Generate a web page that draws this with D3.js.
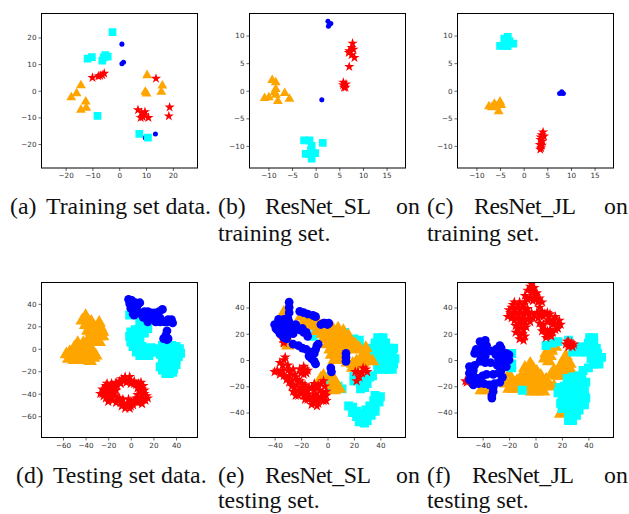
<!DOCTYPE html>
<html>
<head>
<meta charset="utf-8">
<script src="https://cdn.jsdelivr.net/npm/d3@7"></script>
<style>
  html, body { margin: 0; padding: 0; background: #fff; }
  svg { display: block; }
  .axis text { font-family: "DejaVu Sans", sans-serif; font-size: 7.2px; fill: #333; }
  .axis line { stroke: #222; stroke-width: 0.7; }
  .caption { font-family: "Liberation Serif", serif; font-size: 23.8px; fill: #111; }
</style>
</head>
<body>
<div id="chart"></div>
<script>
// (a) training set data
var aCyan = [[-2.5,22],[-11.8,12.1],[-10.2,12.6],[-5.2,13.4],[-4.3,12.8],[-6.3,11.3],[-5.8,12.5],[-8.1,-9.4],[7.5,-16.2],[10.7,-17.6]];
var aBlue = [[1,17.5],[1,10.1],[1.6,10.7],[13.5,-16.2],[9.7,-17.6]];
var aRed = [[-10,4.9],[-7.8,5.5],[-7.1,5.7],[-5.6,6.5],[-6.3,5.9],[13.7,4.6],[18.8,-6.2],[18.5,-9.5],[7,-7.2],[9.6,-7.9],[8.3,-8.2],[8.8,-9.8],[8,-10.1],[10.9,-10.1],[9.3,-9.1]];
var aOrange = [[10.4,5.8],[16.1,1.9],[15.7,-0.4],[9.7,-0.4],[10.2,-1.1],[-14.3,2],[-15.9,-1],[-17.9,-2.5],[-12.5,-4.1],[-12.3,-6.4],[-14.3,-7.2]];

// (b) ResNet_SL, training
var bBlue = [[2.6,12.6],[3.2,12.2],[2.7,11.7],[2.9,12],[1.3,-1.65]];
var bRed = [[7.8,8.6],[8,7.5],[7.1,7.2],[7.6,7.8],[7.6,6.5],[8.2,6],[7,6.9],[7.1,4.35],[5.85,1.5],[6.4,1.2],[6,0.6],[6.3,0.6],[5.8,1.05]];
var bOrange = [[-9.2,1.9],[-8.45,1.5],[-8.45,0.3],[-8.4,-0.75],[-8,-1.9],[-10.8,-1.35],[-9.9,-1.2],[-6.55,-0.45],[-5.55,-1.5],[-8.7,-0.3]];
var bCyan = [[-2.45,-9],[-1.3,-9],[1.5,-9.45],[-0.85,-10],[-1,-10.8],[-2.1,-11.45],[-0.1,-11.3],[-0.85,-12.3],[-1.2,-11.45]];

// (c) ResNet_JL, training
var cCyan = [[-3.35,9.75],[-4.1,9.45],[-2.2,8.55],[-5,8.15],[-3.4,8.1],[-3.9,8.85],[-3,9],[-4.2,8.2]];
var cOrange = [[-7.35,-2.85],[-6.2,-2.4],[-5,-2],[-4.75,-2.6],[-5.3,-3.75],[-6.7,-3],[-5.8,-2.85]];
var cBlue = [[8,-0.45],[7.6,-0.5],[8.4,-0.5],[8.05,-0.2]];
var cRed = [[4.1,-7.5],[3.8,-8],[4.3,-8.25],[3.55,-8.85],[4,-9.15],[3.4,-9.75],[3.85,-9.9],[3.5,-10.65],[3.7,-10.35],[3.6,-8.4]];

// (d) testing set data
var dOrange = [[-40,29],[-43,25],[-38,25],[-35,24],[-40,21],[-36,20],[-32,19],[-28,23],[-27,19],[-25,15],[-30,15],[-35,15],[-38,16],[-33,11],[-28,11],[-36,11],[-25,11],[-32,7],[-28,6],[-35,7],
  [-47,5],[-42,5],[-38,3],[-50,1],[-45,1],[-40,0],[-35,0],[-54,-3],[-49,-3],[-44,-3],[-39,-3],[-34,-3],[-31,-6],[-57,-5],[-52,-7],[-47,-7],[-42,-7],[-37,-7],[-33,-8],[-55,-9],[-50,-10],[-45,-10],[-40,-10],[-36,-11]];
var dCyan = [[-1,30],[8,25],[12,24],[8,18],[12,18],[15,18],[4,17],[0,15],[3,13],[8,14],[12,14],[-1,11],[3,9],[7,10],[0,6],[4,5],[8,6],[2,2],[6,1],[10,2],[14,0],[18,1],[21,0],[5,-3],[9,-4],[13,-4],[17,-3],[21,-3],[8,-6],[12,-6],[16,-6],
  [28,3],[32,2],[36,3],[40,2],[43,0],[44,-4],[40,-3],[36,-2],[32,-3],[28,-2],[26,-5],[30,-6],[34,-6],[38,-6],[42,-7],[40,-10],[36,-10],[32,-10],[28,-10],[40,-14],[36,-14],[32,-14],[28,-14],[26,-16],[38,-18],[34,-18],[30,-18],[28,-19],[37,-21],[34,-22],[31,-22]];
var dBlue = [[-2,44],[1,43],[-1,40],[4,41],[8,41],[5,37],[0,36],[6,39],[3,38],[2,31],[3,30],[8,32],[12,33],[15,33],[11,28],[10,30],[18,32],[14,27],[16,28],[19,29],[15,24],[21,32],[25,33],[28,35],[24,30],[22,27],[26,27],[22,24],[26,24],[30,24],[33,26],[36,26],[37,23],[32,24],[32,16],[31,12],[29,9],[32,8],[33,9]];
var dRed = [[-6,-28],[-2,-28],[3,-29],[7,-31],[-9,-31],[3,-31],[8,-33],[-10,-29],[-13,-30],[-22,-33],[-18,-33],[-14,-34],[-25,-40],[-21,-39],[-17,-38],[-13,-37],[-22,-44],[-18,-44],[-14,-42],[-13,-48],[-9,-48],[-12,-44],[-6,-49],[-2,-49],[-5,-53],[-1,-53],[2,-50],[6,-48],[10,-49],[13,-46],[14,-42],[9,-44],[5,-44],[0,-47],[-7,-45],[8,-38],[10,-36],[6,-35],[12,-40],
  [-20,-36],[-16,-36],[-24,-37],[-19,-41],[-15,-40],[-24,-42],[-20,-47],[-16,-46],[-11,-46],[-8,-51],[-4,-51],[0,-51],[4,-47],[8,-47],[11,-45],[12,-37],[15,-44],[10,-41],[6,-41],[3,-46],[-2,-45],[-10,-44],[-5,-25],[-1,-25],[-4,-30],[0,-31],[5,-32],[-12,-33],[-8,-27],[-25,-36],[-27,-40],[-17,-31],[-21,-31],[11,-33],[9,-30]];

// (e) ResNet_SL, testing
var eOrange = [[-20,33],[-16,31],[-12,30],[-8,30],[-18,29],[-14,27],[-10,26],[-6,26],[-2,24],[-8,22],[-4,20],[0,20],[4,24],[8,24],[12,22],[4,20],[8,20],[12,18],[16,18],[-3,16],[1,16],[5,16],[9,16],[13,14],[17,14],[21,12],[24,9],[0,12],[4,12],[8,12],[12,10],[16,10],[20,8],[2,8],[6,8],[10,6],[3,4],[7,4],[5,0],[9,0],
  [15,-2],[12,1],[19,-6],[23,-4],[27,-2],[22,-1],[26,2],[28,6],[29,9],[31,1],[34,-1],[19,-3],[-5,-14],[-3,-12],[3,-12],[5,-15],[3,-19],[7,-19],[9,-22],[5,-23],[-33,36],[-31,13],[-28,12],[-30,11]];
var eCyan = [[38,17],[42,17],[36,13],[40,13],[44,13],[34,9],[38,9],[42,9],[46,9],[50,9],[33,5],[37,5],[41,5],[45,5],[49,5],[36,1],[40,1],[44,1],[48,1],[51,1],[38,-3],[42,-3],[46,-3],[50,-3],[38,-7],[42,-7],[46,-7],[49,-7],
  [13,21],[20,16],[24,15],[20,12],[24,12],[20,-12],[20,-16],[24,-14],[28,-14],[32,-13],[34,-12],[30,-18],[26,-18],[28,-21],[25,-22],[-11,18],[-9,20],[-1,-13],[1,-15],[3,-22],[8,-20],[11,-22],
  [36,-27],[40,-28],[35,-31],[39,-32],[32,-35],[36,-35],[29,-38],[33,-39],[36,-39],[16,-35],[19,-36],[22,-39],[25,-41],[29,-42],[33,-42],[19,-40],[22,-43],[26,-45],[30,-46],[24,-47],[28,-48]];
var eBlue = [[-29,44],[-29,40],[-29,36],[-30,32],[-33,31],[-29,29],[-36,28],[-32,27],[-28,26],[-38,27],[-35,24],[-31,23],[-27,23],[-38,23],[-34,20],[-30,19],[-36,20],[-31,16],[-24,24],[-21,23],[-19,24],[-16,21],[-15,18],[-39,24],[-40,27],[-26,20],[-33,17],[-37,31],[-24,27],[-18,21],
  [-26,12],[-22,11],[-19,9],[-16,8],[-13,6],[-14,3],[-12,1],[-10,-1],[-9,-3],[-8,11],[-9,8],[-10,5],[-7,12],[-21,37],[-18,36],[-15,35],[-11,34],[-9,33],[-5,27],[-3,28],[-2,28],[1,28],[0,27],[2.5,-6],[3,-9],[14,5],[14,2],[14,-1]];
var eRed = [[-33,0],[-34,-4],[-30,-4],[-38,-8],[-34,-8],[-30,-8],[-26,-7],[-33,-12],[-29,-12],[-25,-11],[-27,-16],[-23,-15],[-27,-20],[-23,-19],[-19,-18],[-26,-24],[-22,-23],[-18,-22],[-14,-21],[-10,-18],[-7,-19],[-22,-27],[-18,-27],[-14,-26],[-10,-23],[-6,-23],[-2,-20],[-1,-24],[-3,-28],[-7,-28],[-11,-28],[-15,-30],[-11,-32],[-7,-33],[-3,-31],[-1,-27],
  [-36,-2],[-32,2],[-40,-9],[-36,-11],[-31,-15],[-28,-9],[-24,-13],[-29,-17],[-25,-21],[-21,-16],[-17,-19],[-24,-27],[-20,-25],[-16,-24],[-12,-21],[-8,-21],[-5,-18],[-3,-16],[-4,-25],[-9,-26],[-13,-29],[-17,-30],[-9,-31],[-5,-30],[-12,-34],[-8,-35],[-20,-21],[-16,-28],[-1,-31],
  [-21,-7],[-18,-5],[-15,-8],[-18,-11],[-19,-8],[-17,-7],[-20,-10],[-16,-10],[-33,15],[-33,13],[-34,16],[23,-9],[27,-6],[29,-7],[30,-9],[26,-10],[24,-13],[22,-16],[21,-9]];

// (f) ResNet_JL, testing
var fOrange = [[-38,-23],[-41,-23],[-20,-22],[-17,-22],[-13,-22],[-22,-18],[-18,-16],[-14,-16],[-20,-11],[-8,-6],[-4,-3],[-2,-6],[-7,-11],[-3,-10],[1,-9],[4,-12],[-11,-13],[-6,-16],[-2,-15],[2,-14],[-9,-19],[-5,-21],[-1,-20],[3,-20],[7,-20],[-3,-24],[1,-24],[6,-24],[11,-20],[14,-20],[8,-15],
  [12,-11],[16,-12],[20,-12],[24,-12],[14,-8],[18,-8],[22,-7],[26,-7],[19,-4],[22,-3],[26,-3],[22,1],[23,3],[10,-1],[7,1],[11,3],[8,5],[12,7],[15,10],[13,12],[11,9],[19,-41]];
var fCyan = [[-18,5],[-18,-3],[-18,-6],[-10,-23],[13,13],[17,14],[25,15],[8,11],
  [41,17],[44,17],[40,13],[44,13],[34,10],[30,10],[38,10],[42,9],[46,9],[28,6],[34,6],[38,6],[43,5],[47,5],[46,1],[50,2],[42,1],[48,-3],[44,-3],[36,-8],[40,-6],[33,-12],[28,-13],[24,-14],[29,-17],[35,-14],[38,-17],[36,-20],[32,-20],[27,-21],[22,-20],[18,-21],[17,-25],[22,-25],[27,-25],[32,-25],[37,-24],[20,-29],[24,-29],[29,-29],[34,-29],[38,-29],[19,-33],[24,-33],[28,-33],[33,-33],[37,-34],[20,-37],[25,-38],[29,-38],[33,-38],[25,-42],[28,-42],[31,-42],[25,-46],[28,-46]];
var fBlue = [[-40,13],[-37,11],[-45,8],[-42,8],[-38,8],[-30,8],[-26,9],[-34,7],[-22,5],[-26,5],[-30,4],[-24,1],[-28,0],[-42,4],[-38,3],[-25,-3],[-22,1],[-42,-1],[-38,-2],[-34,-2],[-29,-4],[-26,-8],[-46,-4],[-47,-8],[-47,-12],[-44,-14],[-40,-12],[-37,-11],[-28,-10],[-32,-11],[-47,-17],[-43,-18],[-39,-18],[-35,-19],[-31,-18],[-27,-17],[-25,-13],[-32,-24],[-33,-27],[-32,-21],
  [-50,-5],[-50,-10],[-50,-15],[-42,14],[-38,15],[-46,5],[-20,4],[-20,0],[-22,-5],[-47,-19],[-33,-29],[-27,11]];
var fRed = [[-4,56],[-1,55],[-6,53],[-2,52],[1,51],[-8,49],[-4,48],[0,47],[3,47],[-16,44],[-12,44],[-8,44],[-18,40],[-14,40],[-10,40],[-6,39],[2,44],[5,44],[3,40],[-19,36],[-15,36],[-11,36],[-7,36],[-3,36],[1,36],[5,37],[9,36],[-18,32],[-14,32],[-10,31],[-6,31],[-2,32],[2,32],[6,33],[10,33],[14,31],[17,27],[13,27],[9,29],[-12,28],[-8,27],[3,28],[6,27],[11,23],[15,23],[7,23],[-13,24],[-9,23],[-12,19],[-8,18],[-12,16],[10,20],[8,19],[5,25],
  [-3,58],[-3,53],[0,49],[-6,46],[-2,45],[-17,42],[-13,42],[-9,42],[-20,38],[-16,38],[-12,38],[-8,38],[-21,33],[-17,34],[-13,34],[-9,34],[-5,34],[-1,34],[3,34],[7,35],[11,35],[15,33],[18,30],[19,27],[15,28],[11,30],[-16,30],[-12,31],[-8,30],[-4,29],[-15,26],[-11,25],[-7,25],[-15,21],[-10,20],[-9,15],[13,21],[17,24],[9,22],[5,22],[8,17],[12,18],
  [25,14],[25,12],[27,13],[29,12],[25,10],[24,14],[23,12],[28,10],[-53,-16],[-52,-17]];

// tick labels
var ticksA = [-20,-10,0,10,20];
var ticksBx = [-10,-5,0,5,10,15];
var ticksBy = [-10,-5,0,5,10];
var ticksDx = [-60,-40,-20,0,20,40];
var ticksDy = [-60,-40,-20,0,20,40];
var ticksE = [-40,-20,0,20,40];

var width = 629, height = 514;
var svg = d3.select("#chart").append("svg").attr("width", width).attr("height", height);

var colors = {cyan: "#00ffff", orange: "#ffa500", red: "#ff0000", blue: "#0000ff"};
var symbols = {cyan: d3.symbolSquare, orange: d3.symbolTriangle, red: d3.symbolStar, blue: d3.symbolCircle};
// training panels hold few points, in the testing panels they pile up to solid blobs
var sizesTrain = {cyan: 60, orange: 42, red: 32, blue: 20};
var sizesTest = {cyan: 80, orange: 80, red: 36, blue: 60};

var panels = [
  {l: 41.5, r: 197.5, t: 13.5, b: 168, xd: [-29,29.2], yd: [-29,29], xt: ticksA, yt: ticksA, sizes: sizesTrain,
    series: {blue: aBlue, orange: aOrange, cyan: aCyan, red: aRed}},
  {l: 249.5, r: 405.5, t: 13.5, b: 168, xd: [-14,19], yd: [-14,14], xt: ticksBx, yt: ticksBy, sizes: sizesTrain,
    series: {orange: bOrange, cyan: bCyan, red: bRed, blue: bBlue}},
  {l: 457.5, r: 613.5, t: 13.5, b: 168, xd: [-14,19], yd: [-14,14], xt: ticksBx, yt: ticksBy, sizes: sizesTrain,
    series: {orange: cOrange, cyan: cCyan, red: cRed, blue: cBlue}},
  {l: 41.5, r: 197.5, t: 282.5, b: 437.5, xd: [-79,59], yd: [-79,59], xt: ticksDx, yt: ticksDy, sizes: sizesTest,
    series: {orange: dOrange, cyan: dCyan, red: dRed, blue: dBlue}},
  {l: 249.5, r: 405.5, t: 282.5, b: 437.5, xd: [-59,59], yd: [-59,59], xt: ticksE, yt: ticksE, sizes: sizesTest,
    series: {cyan: eCyan, orange: eOrange, red: eRed, blue: eBlue}},
  {l: 457.5, r: 613.5, t: 282.5, b: 437.5, xd: [-59,59], yd: [-59,59], xt: ticksE, yt: ticksE, sizes: sizesTest,
    series: {orange: fOrange, cyan: fCyan, red: fRed, blue: fBlue}}
];

panels.forEach(function(p, i) {
  var x = d3.scaleLinear().domain(p.xd).range([p.l, p.r]);
  var y = d3.scaleLinear().domain(p.yd).range([p.b, p.t]);
  var g = svg.append("g").attr("class", "panel");

  var clipId = "clip" + i;
  g.append("clipPath").attr("id", clipId).append("rect")
    .attr("x", p.l).attr("y", p.t).attr("width", p.r - p.l).attr("height", p.b - p.t);

  var marks = g.append("g").attr("clip-path", "url(#" + clipId + ")");
  Object.keys(p.series).forEach(function(name) {
    marks.append("g").selectAll("path")
      .data(p.series[name])
      .enter().append("path")
      .attr("d", d3.symbol().type(symbols[name]).size(p.sizes[name]))
      .attr("fill", colors[name])
      .attr("transform", function(d) { return "translate(" + x(d[0]) + "," + y(d[1]) + ")"; });
  });

  var xAxis = d3.axisBottom(x).tickValues(p.xt).tickSize(3).tickPadding(2).tickFormat(d3.format("d"));
  var yAxis = d3.axisLeft(y).tickValues(p.yt).tickSize(3).tickPadding(2).tickFormat(d3.format("d"));
  g.append("g").attr("class", "axis").attr("transform", "translate(0," + p.b + ")").call(xAxis)
    .select(".domain").remove();
  g.append("g").attr("class", "axis").attr("transform", "translate(" + p.l + ",0)").call(yAxis)
    .select(".domain").remove();

  g.append("rect")
    .attr("x", p.l).attr("y", p.t).attr("width", p.r - p.l).attr("height", p.b - p.t)
    .attr("fill", "none").attr("stroke", "#000").attr("stroke-width", 1);
});

// captions, placed word by word because the source justifies them
var captions = [
  ["(a)", 10, 214], ["Training set data.", 46, 214],
  ["(b)", 218, 214], ["ResNet_SL", 265, 214, 106], ["on", 396, 214], ["training set.", 218, 241],
  ["(c)", 427, 214], ["ResNet_JL", 474, 214, 102], ["on", 604, 214], ["training set.", 427, 241],
  ["(d)", 16, 483], ["Testing set data.", 53, 483],
  ["(e)", 218, 483], ["ResNet_SL", 265, 483, 106], ["on", 396, 483], ["testing set.", 218, 508],
  ["(f)", 427, 483], ["ResNet_JL", 472, 483, 102], ["on", 604, 483], ["testing set.", 427, 508]
];
svg.selectAll("text.caption")
  .data(captions)
  .enter().append("text")
  .attr("class", "caption")
  .attr("x", function(d) { return d[1]; })
  .attr("y", function(d) { return d[2]; })
  .attr("textLength", function(d) { return d[3] || null; })
  .text(function(d) { return d[0]; });
</script>
</body>
</html>
